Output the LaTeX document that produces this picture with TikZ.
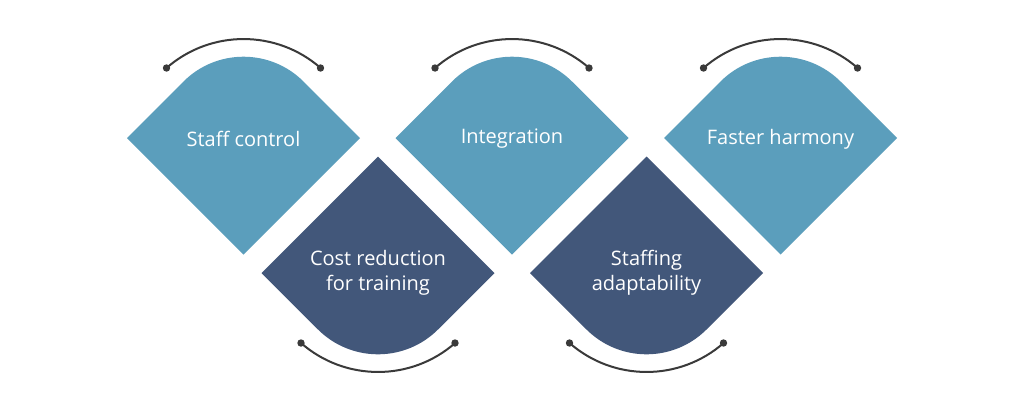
\documentclass[tikz,border=0pt]{standalone}
\usepackage{fontspec}
\setmainfont{Open Sans}
\usepackage{tikz}
\usetikzlibrary{calc}

\definecolor{petal}{HTML}{5B9EBC}
\definecolor{petaldark}{HTML}{42577A}
\definecolor{swingcol}{HTML}{3A3A3A}

\begin{document}
\begin{tikzpicture}[x=0.75pt,y=-0.75pt]
      % one unit is one pixel of the 1024x412 picture, y runs downwards
      \tikzset{PetalUp/.style={fill=petal},
        PetalDown/.style={fill=petaldark},
        PetalText/.style={text=white, align=center,
          font=\fontsize{15}{19}\selectfont},
        Swing/.style={draw=swingcol, line width=1.5pt},
        SwingDot/.style={fill=swingcol}}
      \useasboundingbox[fill=white] (0,0) rectangle (1024,412);
      % the upper row: rounded corner on top, swing above
      \begin{scope}[shift={(243.5,138)}]
        \fill[PetalUp] (-116.5,0) -- (0,116.5) -- (116.5,0) -- (60.1,-56.4)
          arc[start angle=-45, end angle=-135, radius=85] -- cycle;
        \node[PetalText] (staff) at (0,1) {Staff control};
        \coordinate (staffL) at (-77,-70);
        \coordinate (staffR) at (77,-70);
        \draw[Swing] (staffL) arc[start angle=-131.2, end angle=-48.8, radius=117];
        \fill[SwingDot] (staffL) circle (3.7) (staffR) circle (3.7);
      \end{scope}
      \begin{scope}[shift={(512,138)}]
        \fill[PetalUp] (-116.5,0) -- (0,116.5) -- (116.5,0) -- (60.1,-56.4)
          arc[start angle=-45, end angle=-135, radius=85] -- cycle;
        \node[PetalText] (integ) at (0,1) {Integration};
        \coordinate (integL) at (-77,-70);
        \coordinate (integR) at (77,-70);
        \draw[Swing] (integL) arc[start angle=-131.2, end angle=-48.8, radius=117];
        \fill[SwingDot] (integL) circle (3.7) (integR) circle (3.7);
      \end{scope}
      \begin{scope}[shift={(780.5,138)}]
        \fill[PetalUp] (-116.5,0) -- (0,116.5) -- (116.5,0) -- (60.1,-56.4)
          arc[start angle=-45, end angle=-135, radius=85] -- cycle;
        \node[PetalText] (harmony) at (0,1) {Faster harmony};
        \coordinate (harmonyL) at (-77,-70);
        \coordinate (harmonyR) at (77,-70);
        \draw[Swing] (harmonyL) arc[start angle=-131.2, end angle=-48.8, radius=117];
        \fill[SwingDot] (harmonyL) circle (3.7) (harmonyR) circle (3.7);
      \end{scope}
      % the lower row: rounded corner at the bottom, swing below
      \begin{scope}[shift={(378,273)}]
        \fill[PetalDown] (-116.5,0) -- (0,-116.5) -- (116.5,0) -- (60.1,56.4)
          arc[start angle=45, end angle=135, radius=85] -- cycle;
        \node[PetalText] (cost) at (0,0) {Cost reduction\\for training};
        \coordinate (costL) at (-77,70);
        \coordinate (costR) at (77,70);
        \draw[Swing] (costL) arc[start angle=131.2, end angle=48.8, radius=117];
        \fill[SwingDot] (costL) circle (3.7) (costR) circle (3.7);
      \end{scope}
      \begin{scope}[shift={(646.5,273)}]
        \fill[PetalDown] (-116.5,0) -- (0,-116.5) -- (116.5,0) -- (60.1,56.4)
          arc[start angle=45, end angle=135, radius=85] -- cycle;
        \node[PetalText] (adapt) at (0,0) {Staffing\\adaptability};
        \coordinate (adaptL) at (-77,70);
        \coordinate (adaptR) at (77,70);
        \draw[Swing] (adaptL) arc[start angle=131.2, end angle=48.8, radius=117];
        \fill[SwingDot] (adaptL) circle (3.7) (adaptR) circle (3.7);
      \end{scope}
\end{tikzpicture}
\end{document}
